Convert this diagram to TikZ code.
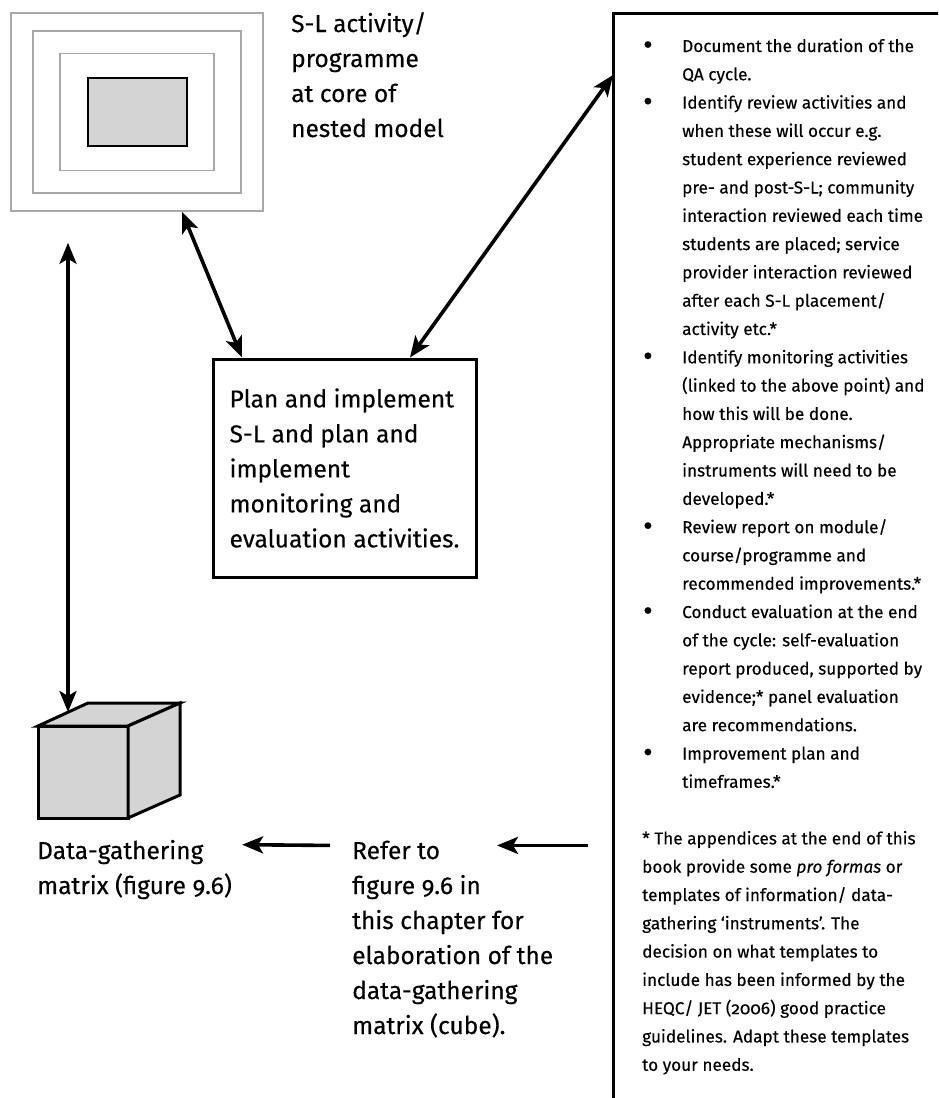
\documentclass[tikz,border=0pt]{standalone}
\usepackage{fontspec}
\usepackage{graphicx}
\setmainfont{Fira Sans}[Numbers=OldStyle,FakeBold=0.3]
\usetikzlibrary{arrows.meta,positioning}

\definecolor{nestgray}{gray}{0.66}
\definecolor{fillgray}{gray}{0.83}

\newcommand{\bpoint}{\hspace{1pt}\raisebox{-2.5pt}{\scalebox{1.7}{\textbullet}}}

\tikzset{
	twoway/.style={line width=3.6pt,{Stealth[length=21pt,width=17pt,inset=5pt]}-{Stealth[length=21pt,width=17pt,inset=5pt]}},
	oneway/.style={line width=3.6pt,-{Stealth[length=21pt,width=17pt,inset=5pt]}},
	bigtext/.style={font=\fontsize{24.5pt}{35pt}\selectfont,align=left,inner sep=0pt},
	boxtext/.style={font=\fontsize{17.2pt}{28.3pt}\selectfont,inner sep=0pt},
	cubeface/.style={fill=fillgray,draw=black,line width=3pt}
}

\begin{document}
\begin{tikzpicture}[x=1pt,y=-1pt]
	\path[use as bounding box,clip] (0,0) rectangle (938,1098);

	\foreach \w/\h [count=\i] in {252/198,208/162,154/117}
		\node[draw=nestgray,line width=1.6pt,minimum width=\w pt,minimum height=\h pt,inner sep=0pt] (nest\i) at (137,112) {};
	\node[draw,line width=2.8pt,fill=fillgray,minimum width=99pt,minimum height=68pt] (core) at (137.5,112) {};
	\node[bigtext,anchor=base west] (title) at (291,137) {S-L activity/\\programme\\at core of\\nested model};

	\node[draw,line width=3pt,minimum width=263pt,minimum height=218pt,align=left,font=\fontsize{24.5pt}{35pt}\selectfont] (plan) at (344.5,468)
		{Plan and implement\\S-L and plan and\\implement\\monitoring and\\evaluation activities.};

	\node[draw,line width=3pt,minimum width=400pt,minimum height=1150pt,anchor=north west,inner sep=0pt,outer sep=0pt] (notes) at (613,13) {};
	\node[boxtext,anchor=base west] (list) at ([shift={(29pt,-39pt)}]notes.north west) {%
		\begin{tabular}[t]{@{}p{40pt}@{}l@{}}
		\bpoint & Document the duration of the\\
		& QA cycle.\\
		\bpoint & Identify review activities and\\
		& when these will occur e.g.\\
		& student experience reviewed\\
		& pre- and post-S-L; community\\
		& interaction reviewed each time\\
		& students are placed; service\\
		& provider interaction reviewed\\
		& after each S-L placement/\\
		& activity etc.*\\
		\bpoint & Identify monitoring activities\\
		& (linked to the above point) and\\
		& how this will be done.\\
		& Appropriate mechanisms/\\
		& instruments will need to be\\
		& developed.*\\
		\bpoint & Review report on module/\\
		& course/programme and\\
		& recommended improvements.*\\
		\bpoint & Conduct evaluation at the end\\
		& of the cycle: self-evaluation\\
		& report produced, supported by\\
		& evidence;* panel evaluation\\
		& are recommendations.\\
		\bpoint & Improvement plan and\\
		& timeframes.*\\
		&\\
		\multicolumn{2}{@{}l@{}}{* The appendices at the end of this}\\
		\multicolumn{2}{@{}l@{}}{book provide some \textit{pro formas} or}\\
		\multicolumn{2}{@{}l@{}}{templates of information/ data-}\\
		\multicolumn{2}{@{}l@{}}{gathering ‘instruments’. The}\\
		\multicolumn{2}{@{}l@{}}{decision on what templates to}\\
		\multicolumn{2}{@{}l@{}}{include has been informed by the}\\
		\multicolumn{2}{@{}l@{}}{HEQC/ JET (2006) good practice}\\
		\multicolumn{2}{@{}l@{}}{guidelines. Adapt these templates}\\
		\multicolumn{2}{@{}l@{}}{to your needs.}
		\end{tabular}};

	\filldraw[cubeface] (38,726) rectangle (128,818);
	\filldraw[cubeface] (38,726) -- (88,703) -- (180,703) -- (128,726) -- cycle;
	\filldraw[cubeface] (128,726) -- (180,703) -- (180,795) -- (128,818) -- cycle;
	\coordinate (cubetop) at (68,712);

	\node[bigtext,anchor=base west] (data) at (37,894) {Data-gathering\\matrix (figure 9.6)};
	\node[bigtext,anchor=base west] (refer) at (352,1034) {Refer to\\figure 9.6 in\\this chapter for\\elaboration of the\\data-gathering\\matrix (cube).};
	\coordinate (inref) at ([shift={(145pt,-5pt)}]refer.north west);

	\draw[twoway] ([xshift=45pt]nest1.south) -- ([xshift=-102.5pt]plan.north);
	\draw[twoway] ([xshift=65.5pt]plan.north) -- ([yshift=-62pt]notes.north west);
	\draw[twoway] ([yshift=-31pt]nest1.south -| cubetop) -- (cubetop);
	\draw[oneway] ([shift={(-22pt,-5pt)}]refer.north west) -- ([shift={(10pt,-5pt)}]data.north east);
	\draw[oneway] ([xshift=-25pt]notes.west |- inref) -- (inref);
\end{tikzpicture}
\end{document}
